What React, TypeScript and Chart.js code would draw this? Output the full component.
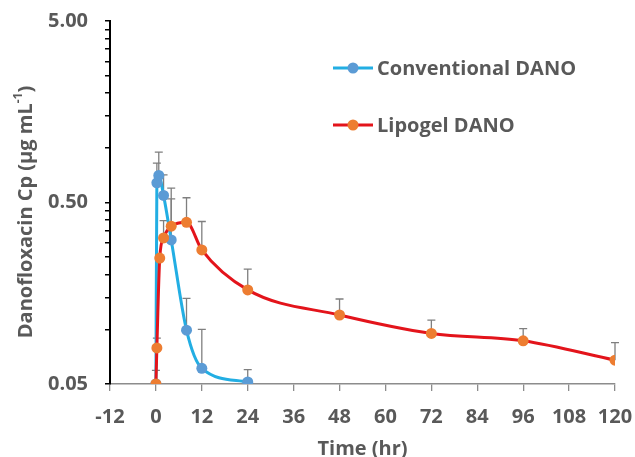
import React, { useEffect, useRef } from "react";
import { Chart, registerables } from "chart.js";

Chart.register(...registerables);

// ---- data ----
const convTime = [0, 0.25, 0.75, 2, 4, 8, 12, 24];
const convConc = [0.05, 0.642, 0.705, 0.547, 0.311, 0.099, 0.061, 0.0513];
const convUpper = [null, 0.824, 0.948, 0.71, 0.6, 0.148, 0.1, 0.06];

const lipoTime = [0, 0.25, 1, 2, 4, 8, 12, 24, 48, 72, 96, 120];
const lipoConc = [0.05, 0.079, 0.247, 0.319, 0.37, 0.389, 0.274, 0.165, 0.12, 0.095, 0.0865, 0.0676];
const lipoUpper = [0.0595, 0.0895, null, 0.397, 0.524, 0.531, 0.393, 0.215, 0.147, 0.1124, 0.101, 0.0845];

const yTickValues = [0.05, 0.1, 0.15, 0.2, 0.25, 0.3, 0.35, 0.4, 0.45, 0.5, 1, 1.5, 2, 2.5, 3, 3.5, 4, 4.5, 5];
const yMajorTicks = [0.05, 0.5, 5];
const xTickStep = 12;

const seriesNames = ["Conventional DANO", "Lipogel DANO"];

const TEXT = "#595959";
const FONT = "'Open Sans', 'Noto Sans', sans-serif";
const BLUE_LINE = "#22aee3";
const BLUE_MARK = "#5b9bd5";
const RED_LINE = "#e3141b";
const ORANGE_MARK = "#ed7d31";

const errorBarPlugin = {
  id: "errorBars",
  beforeDatasetsDraw(chart: any) {
    const ctx = chart.ctx;
    const yScale = chart.scales.y;
    ctx.save();
    ctx.strokeStyle = "#7f7f7f";
    ctx.lineWidth = 1.3;
    chart.data.datasets.forEach((ds: any, di: number) => {
      const meta = chart.getDatasetMeta(di);
      const uppers = ds.upper as (number | null)[];
      meta.data.forEach((pt: any, i: number) => {
        const u = uppers[i];
        if (u == null) return;
        const yTop = yScale.getPixelForValue(u);
        ctx.beginPath();
        ctx.moveTo(pt.x, pt.y);
        ctx.lineTo(pt.x, yTop);
        ctx.moveTo(pt.x - 4, yTop);
        ctx.lineTo(pt.x + 4, yTop);
        ctx.stroke();
      });
    });
    ctx.restore();
  },
};

const decorPlugin = {
  id: "decor",
  afterDraw(chart: any) {
    const ctx = chart.ctx;
    ctx.save();
    // legend
    const items = [
      { name: seriesNames[0], line: BLUE_LINE, mark: BLUE_MARK, y: 68 },
      { name: seriesNames[1], line: RED_LINE, mark: ORANGE_MARK, y: 125 },
    ];
    items.forEach((it) => {
      ctx.strokeStyle = it.line;
      ctx.lineWidth = 3;
      ctx.beginPath();
      ctx.moveTo(333, it.y);
      ctx.lineTo(373, it.y);
      ctx.stroke();
      ctx.fillStyle = it.mark;
      ctx.beginPath();
      ctx.arc(353, it.y, 5.5, 0, Math.PI * 2);
      ctx.fill();
      ctx.fillStyle = TEXT;
      ctx.font = `bold 20px ${FONT}`;
      ctx.textAlign = "left";
      ctx.textBaseline = "middle";
      ctx.fillText(it.name, 377, it.y + 1);
    });
    // y title with superscript
    ctx.translate(26, 212);
    ctx.rotate(-Math.PI / 2);
    ctx.fillStyle = TEXT;
    ctx.textBaseline = "middle";
    ctx.textAlign = "left";
    const main = "Danofloxacin Cp (µg mL";
    const sup = "-1";
    const tail = ")";
    ctx.font = `bold 20px ${FONT}`;
    const w1 = ctx.measureText(main).width;
    const w3 = ctx.measureText(tail).width;
    ctx.font = `bold 12px ${FONT}`;
    const w2 = ctx.measureText(sup).width;
    const total = w1 + w2 + w3;
    let x = -total / 2;
    ctx.font = `bold 20px ${FONT}`;
    ctx.fillText(main, x, 0);
    x += w1;
    ctx.font = `bold 12px ${FONT}`;
    ctx.fillText(sup, x, -7);
    x += w2;
    ctx.font = `bold 20px ${FONT}`;
    ctx.fillText(tail, x, 0);
    ctx.restore();
  },
};

export default function App() {
  const ref = useRef<HTMLCanvasElement>(null);
  useEffect(() => {
    const chart = new Chart(ref.current!, {
      type: "line",
      data: {
        datasets: [
          {
            label: seriesNames[1],
            data: lipoTime.map((t, i) => ({ x: t, y: lipoConc[i] })),
            upper: lipoUpper,
            borderColor: RED_LINE,
            borderWidth: 3,
            pointBackgroundColor: ORANGE_MARK,
            pointBorderColor: ORANGE_MARK,
            pointRadius: 5.5,
            pointBorderWidth: 0,
            cubicInterpolationMode: "monotone",
            order: 0,
          } as any,
          {
            label: seriesNames[0],
            data: convTime.map((t, i) => ({ x: t, y: convConc[i] })),
            upper: convUpper,
            borderColor: BLUE_LINE,
            borderWidth: 3,
            pointBackgroundColor: BLUE_MARK,
            pointBorderColor: BLUE_MARK,
            pointRadius: 5.5,
            pointBorderWidth: 0,
            cubicInterpolationMode: "monotone",
            order: 1,
          } as any,
        ],
      },
      options: {
        responsive: false,
        animation: false,
        layout: { padding: { top: 21, right: 20, left: 0, bottom: 0 } },
        plugins: { legend: { display: false }, tooltip: { enabled: false }, title: { display: false } },
        scales: {
          x: {
            type: "linear",
            min: -12,
            max: 120,
            ticks: {
              stepSize: xTickStep,
              color: TEXT,
              font: { family: FONT, weight: "bold", size: 20 },
              padding: 14,
              maxRotation: 0,
              autoSkip: false,
            },
            grid: { drawOnChartArea: false, drawTicks: true, tickLength: 7, color: "#8c8c8c", lineWidth: 1.3 },
            border: { color: "#8c8c8c", width: 1.5 },
            title: {
              display: true,
              text: "Time (hr)",
              color: TEXT,
              font: { family: FONT, weight: "bold", size: 20 },
              padding: { top: 0, bottom: -4 },
            },
            afterFit: (s: any) => {
              s.height = 73;
              s.paddingLeft = 0;
              s.paddingRight = 0;
            },
          },
          y: {
            type: "logarithmic",
            min: 0.05,
            max: 5,
            afterBuildTicks: (s: any) => {
              s.ticks = yTickValues.map((v) => ({ value: v }));
            },
            ticks: {
              autoSkip: false,
              color: TEXT,
              font: { family: FONT, weight: "bold", size: 20 },
              padding: 17,
              callback: (v: any) => (yMajorTicks.some((m) => Math.abs(m - Number(v)) < 1e-9) ? Number(v).toFixed(2) : ""),
            },
            grid: { drawOnChartArea: false, drawTicks: true, tickLength: 5, color: "#000", lineWidth: 1.5 },
            border: { color: "#000", width: 2 },
            afterFit: (s: any) => {
              s.width = 110;
              s.paddingTop = 0;
              s.paddingBottom = 0;
            },
          },
        },
      } as any,
      plugins: [errorBarPlugin, decorPlugin],
    });
    return () => chart.destroy();
  }, []);
  return (
    <div style={{ position: "fixed", left: 0, top: 0, width: 635, height: 457, background: "#fff" }}>
      <canvas ref={ref} width={635} height={457} style={{ width: 635, height: 457, display: "block" }} />
    </div>
  );
}
